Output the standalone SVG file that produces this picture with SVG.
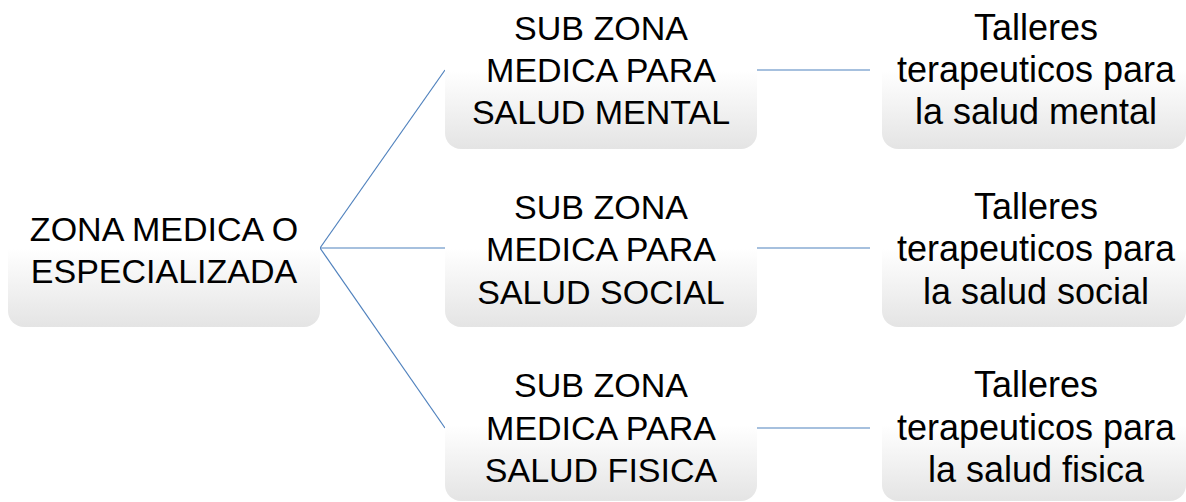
<svg xmlns="http://www.w3.org/2000/svg" width="1186" height="502" viewBox="0 0 1186 502">
<defs>
<linearGradient id="g" x1="0" y1="0" x2="0" y2="1">
<stop offset="0" stop-color="#ffffff"/>
<stop offset="0.5" stop-color="#ffffff"/>
<stop offset="1" stop-color="#e4e4e4"/>
</linearGradient>
</defs>
<style>
.box{fill:url(#g);}
.t{font-family:"Liberation Sans",Arial,sans-serif;font-size:34px;fill:#000;text-anchor:middle;}
.l{font-size:36px;}
.c{stroke:#4f81bd;stroke-width:1.2;fill:none;}
</style>
<g id="connectors">
<line class="c" x1="320" y1="248" x2="445" y2="70"/>
<line class="c" x1="320" y1="248" x2="445" y2="248"/>
<line class="c" x1="320" y1="248" x2="445" y2="428"/>
<line class="c" x1="757" y1="70" x2="870" y2="70"/>
<line class="c" x1="757" y1="248" x2="870" y2="248"/>
<line class="c" x1="757" y1="428" x2="870" y2="428"/>
</g>
<g id="root">
<rect class="box" x="8" y="170" width="312" height="157" rx="16"/>
<text class="t" x="164" y="241">ZONA MEDICA O</text>
<text class="t" x="164" y="283">ESPECIALIZADA</text>
</g>
<g id="sub-mental">
<rect class="box" x="445" y="-8" width="312" height="157" rx="16"/>
<text class="t" x="601" y="40">SUB ZONA</text>
<text class="t" x="601" y="82">MEDICA PARA</text>
<text class="t" x="601" y="124">SALUD MENTAL</text>
</g>
<g id="sub-social">
<rect class="box" x="445" y="170" width="312" height="157" rx="16"/>
<text class="t" x="601" y="219">SUB ZONA</text>
<text class="t" x="601" y="261">MEDICA PARA</text>
<text class="t" x="601" y="304">SALUD SOCIAL</text>
</g>
<g id="sub-fisica">
<rect class="box" x="445" y="349" width="312" height="152" rx="16"/>
<text class="t" x="601" y="397">SUB ZONA</text>
<text class="t" x="601" y="440">MEDICA PARA</text>
<text class="t" x="601" y="482">SALUD FISICA</text>
</g>
<g id="taller-mental">
<rect class="box" x="882" y="-8" width="304" height="157" rx="16"/>
<text class="t l" x="1036" y="40">Talleres</text>
<text class="t l" x="1036" y="82">terapeuticos para</text>
<text class="t l" x="1036" y="124">la salud mental</text>
</g>
<g id="taller-social">
<rect class="box" x="882" y="170" width="304" height="157" rx="16"/>
<text class="t l" x="1036" y="219">Talleres</text>
<text class="t l" x="1036" y="261">terapeuticos para</text>
<text class="t l" x="1036" y="304">la salud social</text>
</g>
<g id="taller-fisica">
<rect class="box" x="882" y="349" width="304" height="152" rx="16"/>
<text class="t l" x="1036" y="397">Talleres</text>
<text class="t l" x="1036" y="440">terapeuticos para</text>
<text class="t l" x="1036" y="482">la salud fisica</text>
</g>
</svg>
